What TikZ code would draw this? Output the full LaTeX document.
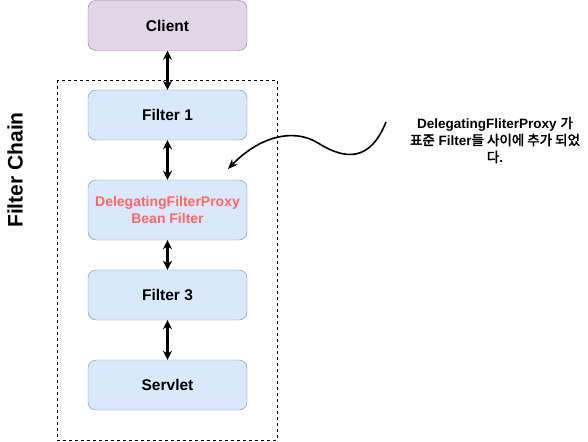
\documentclass[tikz,border=0pt]{standalone}
\usepackage{fontspec}
\setmainfont{Liberation Sans}
\newfontfamily\krfont{Noto Sans CJK KR}[AutoFakeBold=2.5]
\usetikzlibrary{arrows.meta}

\definecolor{clientfill}{HTML}{E1D5E7}
\definecolor{clientdraw}{HTML}{9673A6}
\definecolor{filterfill}{HTML}{DAE8FC}
\definecolor{filterdraw}{HTML}{6C8EBF}
\definecolor{proxyred}{HTML}{FF6666}

\tikzset{
    box/.style={draw=filterdraw, fill=filterfill, rounded corners=8pt,
        minimum width=159pt, minimum height=50pt, inner sep=0pt,
        align=center, font=\fontsize{15.5}{17}\selectfont\bfseries},
    clientbox/.style={box, draw=clientdraw, fill=clientfill},
    link/.style={line width=2.2pt, {Stealth[length=9pt,width=9pt]}-{Stealth[length=9pt,width=9pt]}}
}

\begin{document}
\begin{tikzpicture}[x=1pt, y=-1pt]
            % 画布大小
            \useasboundingbox (0,0) rectangle (588,441);

            % Filter Chain 虚线框
            \draw[dashed, line width=0.8pt] (57,80) rectangle (277,440);
            \node[rotate=90, font=\fontsize{21}{23}\selectfont\bfseries] (chain) at (15,170) {Filter Chain};

            % 方框
            \node[clientbox] (client) at (167.5,25.5) {Client};
            \node[box] (filter1) at (167.5,115) {Filter 1};
            \node[box, minimum height=60pt, text=proxyred, font=\fontsize{14}{17}\selectfont\bfseries] (proxy) at (167.5,210)
                {DelegatingFilterProxy\\Bean Filter};
            \node[box] (filter3) at (167.5,295) {Filter 3};
            \node[box] (servlet) at (167.5,385) {Servlet};

            % 双向箭头
            \draw[link] (client) -- (filter1);
            \draw[link] (filter1) -- (proxy);
            \draw[link] (proxy) -- (filter3);
            \draw[link] (filter3) -- (servlet);

            % 说明文字
            \node[align=center, font=\fontsize{13.5}{17}\selectfont\bfseries] (note) at (495,140)
                {DelegatingFliterProxy {\krfont 가}\\
                 {\krfont 표준} Filter{\krfont 들 사이에 추가 되었}\\
                 {\krfont 다}.};

            % 曲线箭头
            \coordinate (S) at (386,122);
            \coordinate (T) at (228,169);
            \draw[line width=1.6pt, -{Stealth[length=10pt,width=8pt]}] (S)
                .. controls (370,162) and (345,160) .. (318,143)
                .. controls (292,127) and (258,138) .. (T);
\end{tikzpicture}
\end{document}
